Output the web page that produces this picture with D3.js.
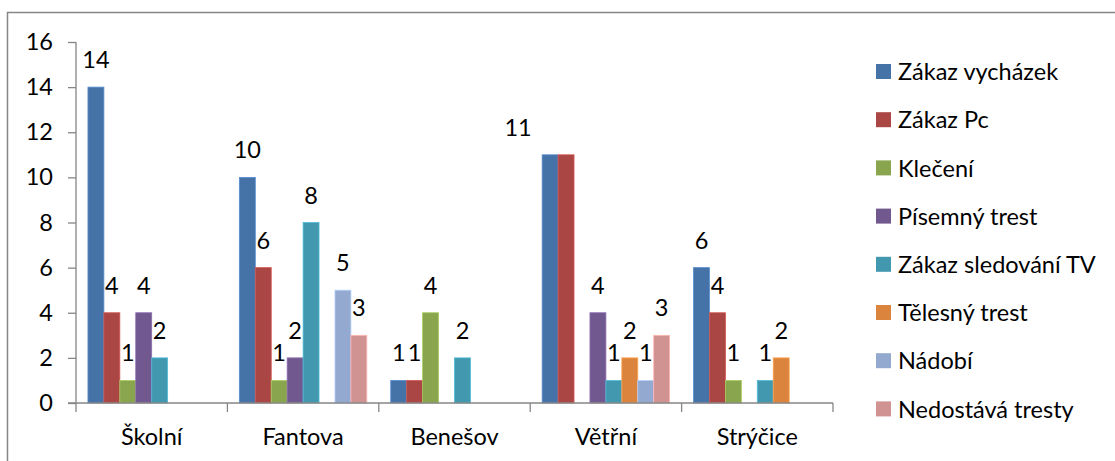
<!DOCTYPE html>
<html>
<head>
<meta charset="utf-8">
<script src="https://cdn.jsdelivr.net/npm/d3@7"></script>
<style>
  html, body { margin: 0; padding: 0; background: #fff; }
  svg { display: block; font-family: Lato, "Open Sans", sans-serif; }
</style>
</head>
<body>
<svg id="chart" width="1115" height="461"></svg>
<script>
// Schools (groups along the x axis)
const categories = ["Školní", "Fantova", "Benešov", "Větřní", "Strýčice"];

// Punishment types (one bar per type inside each group)
const seriesNames = [
  "Zákaz vycházek", "Zákaz Pc", "Klečení", "Písemný trest",
  "Zákaz sledování TV", "Tělesný trest", "Nádobí", "Nedostává tresty"
];

// Counts per punishment type, in the order of the schools above
const zakazVychazek   = [14, 10, 1, 11, 6];
const zakazPc         = [4, 6, 1, 11, 4];
const kleceni         = [1, 1, 4, 0, 1];
const pisemnyTrest    = [4, 2, 0, 4, 0];
const zakazTV         = [2, 8, 2, 1, 1];
const telesnyTrest    = [0, 0, 0, 2, 2];
const nadobi          = [0, 5, 0, 1, 0];
const nedostavaTresty = [0, 3, 0, 3, 0];

const yTicks = [0, 2, 4, 6, 8, 10, 12, 14, 16];

const seriesValues = [zakazVychazek, zakazPc, kleceni, pisemnyTrest,
                      zakazTV, telesnyTrest, nadobi, nedostavaTresty];
const colors = ["#4572A7", "#AA4643", "#89A54E", "#71588F",
                "#4198AF", "#DB843D", "#93A9CF", "#D19392"];

// Value labels that sit off their bar or are left out (they would overlap)
const labelNudge = { "Větřní|Zákaz vycházek": -32 };
const hiddenLabels = new Set(["Větřní|Zákaz Pc"]);

const svg = d3.select("#chart");
const axisColor = "#868686";
const fontSize = 23.5;

// outer frame of the chart area
svg.append("rect")
  .attr("x", 7.5).attr("y", 12.5)
  .attr("width", 1200).attr("height", 600)
  .attr("fill", "#fff").attr("stroke", axisColor).attr("stroke-width", 1.5);

const plotLeft = 76, plotRight = 833, plotTop = 42, plotBottom = 403;

const y = d3.scaleLinear().domain([0, 16]).range([plotBottom, plotTop]);
const x0 = d3.scaleBand().domain(categories).range([plotLeft, plotRight]).padding(0);
const x1 = d3.scaleBand().domain(seriesNames).range([0, x0.bandwidth()])
  .paddingInner(0).paddingOuter(0.75);

// y axis
const yAxis = d3.axisLeft(y).tickValues(yTicks).tickSize(8).tickPadding(15);
const gy = svg.append("g").attr("transform", `translate(${plotLeft},0)`).call(yAxis);
gy.select(".domain").attr("stroke", axisColor).attr("stroke-width", 1.3)
  .attr("d", `M0,${plotTop}V${plotBottom}`);
gy.selectAll(".tick line").attr("stroke", axisColor).attr("stroke-width", 1.3);
gy.selectAll(".tick text").attr("fill", "#000")
  .style("font-size", fontSize + "px").style("font-family", "Lato, sans-serif");

// bars
const rows = [];
seriesNames.forEach((s, si) => {
  categories.forEach((c, ci) => {
    rows.push({ series: s, cat: c, value: seriesValues[si][ci], color: colors[si] });
  });
});

const barG = svg.append("g");
barG.selectAll("rect")
  .data(rows.filter(d => d.value > 0))
  .join("rect")
  .attr("x", d => x0(d.cat) + x1(d.series))
  .attr("y", d => y(d.value))
  .attr("width", x1.bandwidth())
  .attr("height", d => y(0) - y(d.value))
  .attr("fill", d => d.color)
  .attr("stroke", d => d3.color(d.color).brighter(0.6))
  .attr("stroke-width", 0.8);

// x axis (drawn over the bar bases)
const xAxisG = svg.append("g");
xAxisG.append("line")
  .attr("x1", plotLeft - 8).attr("x2", plotRight)
  .attr("y1", plotBottom).attr("y2", plotBottom)
  .attr("stroke", axisColor).attr("stroke-width", 1.3);
const bounds = categories.map(c => x0(c)).concat([plotRight]);
xAxisG.selectAll("line.tick")
  .data(bounds)
  .join("line")
  .attr("class", "tick")
  .attr("x1", d => d).attr("x2", d => d)
  .attr("y1", plotBottom).attr("y2", plotBottom + 9)
  .attr("stroke", axisColor).attr("stroke-width", 1.3);
xAxisG.selectAll("text")
  .data(categories)
  .join("text")
  .attr("x", d => x0(d) + x0.bandwidth() / 2)
  .attr("y", 445)
  .attr("text-anchor", "middle")
  .style("font-size", fontSize + "px")
  .text(d => d);

// value labels
svg.append("g").selectAll("text")
  .data(rows.filter(d => d.value > 0 && !hiddenLabels.has(d.cat + "|" + d.series)))
  .join("text")
  .attr("x", d => x0(d.cat) + x1(d.series) + x1.bandwidth() / 2 + (labelNudge[d.cat + "|" + d.series] || 0))
  .attr("y", d => y(d.value) - 19)
  .attr("text-anchor", "middle")
  .style("font-size", fontSize + "px")
  .text(d => d.value);

// legend
const legend = svg.append("g");
const legendRows = legend.selectAll("g")
  .data(seriesNames)
  .join("g")
  .attr("transform", (d, i) => `translate(876,${72 + i * 48.2})`);
legendRows.append("rect")
  .attr("x", 0).attr("y", -8).attr("width", 15).attr("height", 15)
  .attr("fill", (d, i) => colors[i]);
legendRows.append("text")
  .attr("x", 22).attr("y", 0).attr("dy", "0.35em")
  .style("font-size", fontSize + "px")
  .text(d => d);
</script>
</body>
</html>
